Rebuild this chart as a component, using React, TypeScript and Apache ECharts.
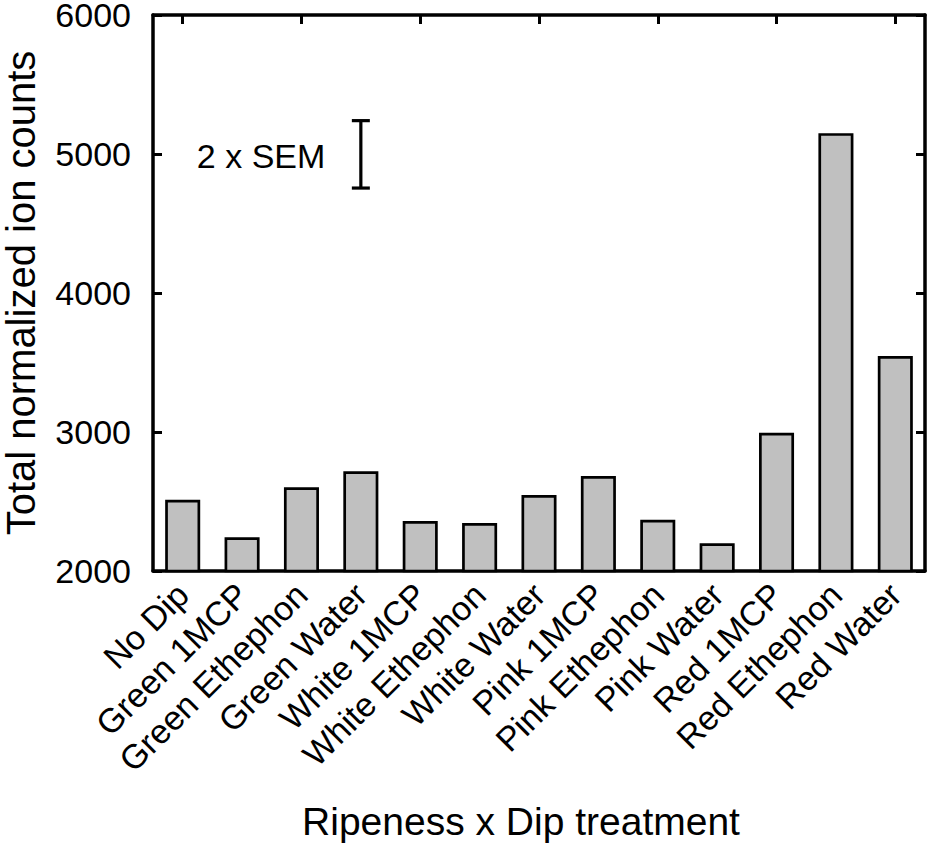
import React, { useEffect, useRef } from "react";
import * as echarts from "echarts";

const categories = [
  "No Dip",
  "Green 1MCP",
  "Green Ethephon",
  "Green Water",
  "White 1MCP",
  "White Ethephon",
  "White Water",
  "Pink 1MCP",
  "Pink Ethephon",
  "Pink Water",
  "Red 1MCP",
  "Red Ethephon",
  "Red Water",
];

const ionCounts = [2513, 2242, 2602, 2717, 2360, 2345, 2547, 2683, 2369, 2200, 2995, 5150, 3547];

const yTicks = [2000, 3000, 4000, 5000, 6000];

// SEM scale bar: [category index, low, high, centre]
const semBar = [[3, 4755, 5240, 5000]];
const semLabel = "2 x SEM";

const FONT = "'Liberation Sans', Arial, Helvetica, sans-serif";

export default function App() {
  const ref = useRef<HTMLDivElement>(null);

  useEffect(() => {
    document.body.style.margin = "0";
    if (!ref.current) return;
    const chart = echarts.init(ref.current, undefined, { renderer: "svg" });
    const lineStyle = { color: "#000", width: 3.5 };
    chart.setOption({
      animation: false,
      backgroundColor: "#fff",
      textStyle: { fontFamily: FONT, color: "#000" },
      grid: { left: 153, right: 5, top: 15, bottom: 275, containLabel: false, outerBoundsMode: "none" },
      xAxis: [
        {
          type: "category",
          data: categories,
          position: "bottom",
          axisLine: { show: true, lineStyle },
          axisTick: { show: false },
          axisLabel: {
            rotate: 45,
            interval: 0,
            fontSize: 34,
            color: "#000",
            fontFamily: FONT,
            margin: 18,
            verticalAlign: "middle",
            padding: [10, 0, 0, 0],
          },
          name: "Ripeness x Dip treatment",
          nameLocation: "middle",
          nameGap: 231,
          nameTextStyle: { fontSize: 39, color: "#000", fontFamily: FONT, padding: [0, 36, 0, 0] },
        },
        {
          type: "category",
          data: categories,
          position: "top",
          axisLine: { show: true, lineStyle },
          axisTick: { show: true, inside: true, alignWithLabel: true, length: 9, lineStyle: { color: "#000", width: 3 } },
          axisLabel: { show: false },
        },
      ],
      yAxis: [
        {
          type: "value",
          min: yTicks[0],
          max: yTicks[yTicks.length - 1],
          interval: 1000,
          position: "left",
          axisLine: { show: true, lineStyle },
          axisTick: { show: true, inside: true, length: 9, lineStyle: { color: "#000", width: 3 } },
          axisLabel: {
            fontSize: 34,
            lineHeight: 30,
            color: "#000",
            fontFamily: FONT,
            margin: 22,
            formatter: (v: number) => String(v),
          },
          splitLine: { show: false },
          name: "Total normalized ion counts",
          nameLocation: "middle",
          nameGap: 112,
          nameTextStyle: { fontSize: 40, lineHeight: 40, color: "#000", fontFamily: FONT },
        },
        {
          type: "value",
          min: yTicks[0],
          max: yTicks[yTicks.length - 1],
          interval: 1000,
          position: "right",
          axisLine: { show: true, lineStyle },
          axisTick: { show: true, inside: true, length: 9, lineStyle: { color: "#000", width: 3 } },
          axisLabel: { show: false },
          splitLine: { show: false },
        },
      ],
      series: [
        {
          type: "bar",
          data: ionCounts,
          barWidth: "59%",
          itemStyle: { color: "#c0c0c0", borderColor: "#000", borderWidth: 2.7 },
          silent: true,
        },
        {
          type: "custom",
          data: semBar,
          silent: true,
          renderItem: (_params: any, api: any) => {
            const x = api.value(0);
            const lo = api.coord([x, api.value(1)]);
            const hi = api.coord([x, api.value(2)]);
            const mid = api.coord([x, api.value(3)]);
            const cap = 9;
            const ls = { stroke: "#000", lineWidth: 3.2 };
            return {
              type: "group",
              children: [
                { type: "line", shape: { x1: lo[0], y1: lo[1], x2: hi[0], y2: hi[1] }, style: ls },
                { type: "line", shape: { x1: lo[0] - cap, y1: lo[1], x2: lo[0] + cap, y2: lo[1] }, style: ls },
                { type: "line", shape: { x1: hi[0] - cap, y1: hi[1], x2: hi[0] + cap, y2: hi[1] }, style: ls },
                {
                  type: "text",
                  style: {
                    text: semLabel,
                    x: mid[0] - 164,
                    y: mid[1] + 2,
                    align: "left",
                    verticalAlign: "middle",
                    fontSize: 34,
                    fontFamily: FONT,
                    fill: "#000",
                  },
                },
              ],
            };
          },
        },
      ],
    });
    return () => chart.dispose();
  }, []);

  return <div ref={ref} style={{ width: 930, height: 846, position: "absolute", left: 0, top: 0 }} />;
}
